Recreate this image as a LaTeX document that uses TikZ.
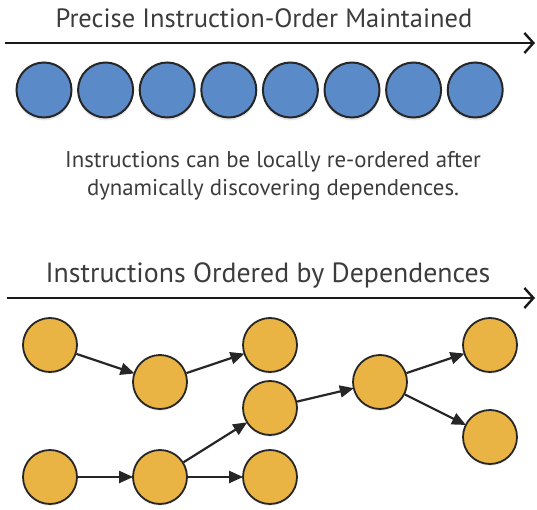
\documentclass[tikz,border=0pt]{standalone}
\usepackage{fontspec}
\setmainfont{PT Sans}
\usetikzlibrary{arrows.meta,shadows}
\definecolor{bluefill}{HTML}{5A8BC8}
\definecolor{goldfill}{HTML}{E9B443}
\definecolor{edgegray}{HTML}{262626}
\definecolor{textgray}{HTML}{3C3C3C}
\tikzset{
  bluedot/.style={circle, draw=edgegray, line width=2pt, fill=bluefill, minimum size=55pt, inner sep=0pt,
    drop shadow={opacity=0.18, shadow xshift=0pt, shadow yshift=-3pt}},
  golddot/.style={circle, draw=edgegray, line width=1.8pt, fill=goldfill, minimum size=54pt, inner sep=0pt,
    drop shadow={opacity=0.12, shadow xshift=0pt, shadow yshift=-2pt}},
  dep/.style={draw=edgegray, line width=2.2pt, -{Triangle[length=14pt,width=12pt]}, shorten >=-1pt},
  timeline/.style={draw=black!90, line width=2.8pt, -{Straight Barb[length=9pt,width=20pt,line width=2.4pt]}},
  title/.style={text=textgray, inner sep=0pt, anchor=base},
}
\begin{document}
\begin{tikzpicture}[x=1pt,y=-1pt]
\useasboundingbox (0,0) rectangle (537,510);
% top section
\node[title, font=\fontsize{26.5}{30}\selectfont] (t1) at (264,28) {Precise Instruction-Order Maintained};
\coordinate (a1s) at (5,43);
\coordinate (a1e) at (535,43);
\draw[timeline] (a1s) -- (a1e);
\foreach \i in {0,...,7} {
  \node[bluedot] (b\i) at ({44+61.6*\i},90) {};
}
\node[text=textgray, align=center, font=\fontsize{22.8}{28}\selectfont, inner sep=0pt] (desc) at (273,176)
  {Instructions can be locally re-ordered after\\dynamically discovering dependences.};
% bottom section
\node[title, font=\fontsize{27.8}{31}\selectfont] (t2) at (268,282) {Instructions Ordered by Dependences};
\coordinate (a2s) at (7,298);
\coordinate (a2e) at (535,298);
\draw[timeline] (a2s) -- (a2e);
\node[golddot] (A) at (50,345) {};
\node[golddot] (B) at (160,382) {};
\node[golddot] (C) at (270,345) {};
\node[golddot] (D) at (270,408) {};
\node[golddot] (E) at (50,477) {};
\node[golddot] (F) at (160,477) {};
\node[golddot] (G) at (270,477) {};
\node[golddot] (H) at (380,382) {};
\node[golddot] (I) at (490,345) {};
\node[golddot] (J) at (490,437) {};
\draw[dep] (A) -- (B);
\draw[dep] (B) -- (C);
\draw[dep] (E) -- (F);
\draw[dep] (F) -- (D);
\draw[dep] (F) -- (G);
\draw[dep] (D) -- (H);
\draw[dep] (H) -- (I);
\draw[dep] (H) -- (J);
\end{tikzpicture}
\end{document}
